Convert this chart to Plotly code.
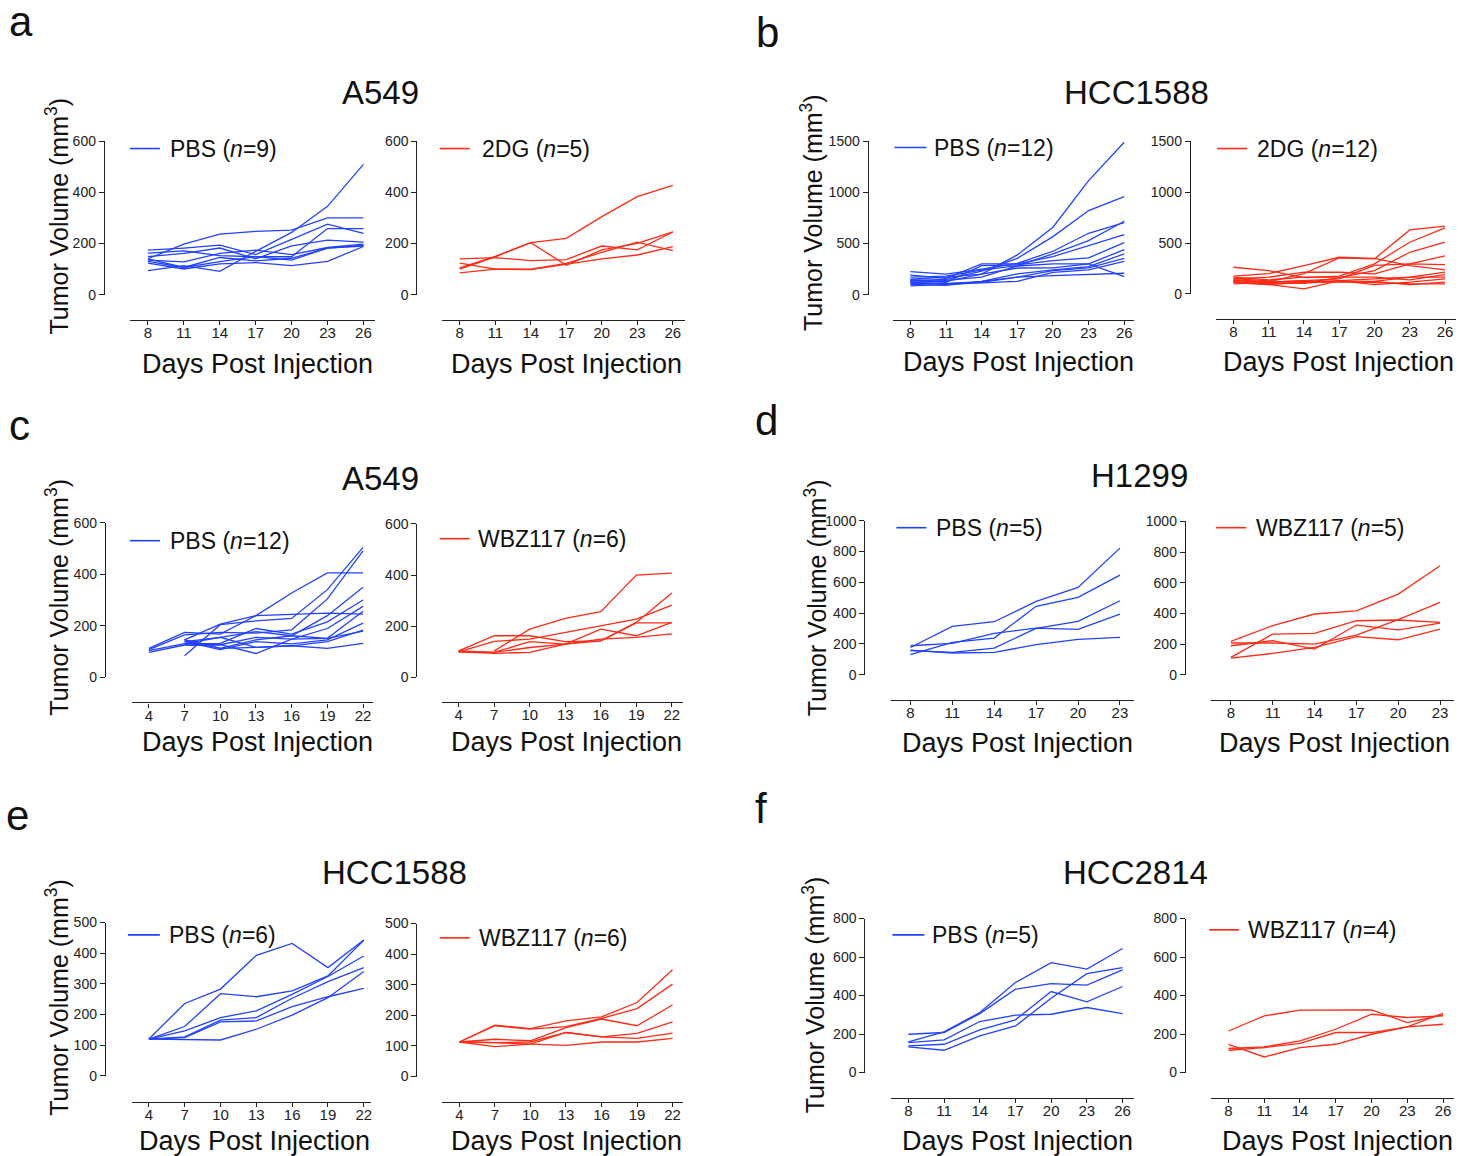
import plotly.graph_objects as go

FONT = "Liberation Sans, Arial, Helvetica, sans-serif"
W, H = 1473, 1172
# observed vertical mapping of the capture: y_out = VA + VS * y_page
VA, VS = 7.5, 0.986
BLUE = "#2242FF"
RED = "#FF2B16"
AXC = "#222222"

# ---------------- data ----------------
days_8_26 = [8, 11, 14, 17, 20, 23, 26]
days_4_22 = [4, 7, 10, 13, 16, 19, 22]
days_8_23 = [8, 11, 14, 17, 20, 23]

# a: A549, PBS (n=9) / 2DG (n=5)
a_pbs = [
    [94, 113, 91, 169, 243, 345, 509],
    [140, 197, 236, 247, 252, 300, 300],
    [174, 182, 193, 156, 216, 275, 239],
    [162, 171, 152, 148, 148, 258, 258],
    [148, 161, 182, 140, 190, 213, 205],
    [135, 128, 161, 174, 156, 184, 197],
    [130, 106, 145, 132, 142, 182, 192],
    [123, 100, 120, 125, 113, 130, 188],
    [140, 106, 129, 148, 135, 182, 190],
]
a_2dg = [
    [105, 150, 203, 220, 305, 383, 427],
    [100, 148, 203, 115, 175, 200, 245],
    [140, 145, 133, 137, 190, 175, 245],
    [123, 100, 100, 122, 165, 205, 172],
    [85, 100, 98, 118, 140, 155, 188],
]

# b: HCC1588, PBS (n=12) / 2DG (n=12)
b_pbs = [
    [150, 170, 200, 388, 659, 1115, 1490],
    [130, 150, 230, 355, 567, 822, 958],
    [225, 200, 250, 306, 424, 600, 704],
    [170, 180, 240, 284, 398, 528, 717],
    [190, 160, 300, 300, 372, 479, 587],
    [140, 120, 284, 290, 333, 359, 509],
    [120, 130, 200, 260, 261, 300, 440],
    [100, 90, 130, 202, 241, 274, 398],
    [110, 110, 120, 170, 235, 261, 355],
    [85, 100, 111, 130, 218, 241, 326],
    [145, 140, 170, 280, 300, 300, 176],
    [120, 104, 130, 170, 186, 196, 209],
]
b_2dg = [
    [174, 200, 278, 360, 350, 278, 236],
    [130, 120, 200, 354, 344, 629, 665],
    [262, 229, 160, 175, 295, 508, 649],
    [150, 130, 105, 160, 229, 409, 508],
    [147, 164, 213, 213, 197, 295, 373],
    [131, 115, 131, 147, 280, 295, 288],
    [115, 92, 49, 131, 147, 164, 213],
    [164, 138, 164, 164, 164, 138, 190],
    [98, 115, 131, 115, 124, 164, 164],
    [140, 115, 120, 130, 92, 115, 147],
    [120, 100, 105, 125, 124, 92, 115],
    [110, 92, 110, 120, 110, 100, 98],
]

# c: A549, PBS (n=12) / WBZ117 (n=6)
c_pbs = [
    [None, 84, 205, 220, 229, 341, 505],
    [None, 146, 207, 240, 328, 406, 406],
    [113, 175, 168, 240, 245, 250, 246],
    [108, 165, 175, 172, 185, 305, 492],
    [None, 139, 156, 178, 162, 240, 350],
    [104, 131, 132, 190, 168, 216, 301],
    [97, 126, 127, 156, 149, 190, 276],
    [None, 146, 113, 146, 162, 152, 257],
    [None, 139, 108, 139, 130, 146, 211],
    [None, 131, 156, 117, 123, 139, 184],
    [None, 126, 127, 93, 149, 152, 180],
    [None, 146, 113, 117, 123, 113, 132],
]
c_wbz = [
    [None, 104, 189, 231, 257, 400, 408],
    [104, 163, 163, 140, 143, 213, 213],
    [100, 141, 150, 176, 202, 228, 283],
    [104, 98, 140, 130, 189, 163, 215],
    [100, 94, 98, 130, 143, 215, 330],
    [100, 98, 117, 130, 150, 157, 170],
]

# d: H1299, PBS (n=5) / WBZ117 (n=5)
d_pbs = [
    [177, 314, 344, 476, 567, 822],
    [130, 210, 238, 444, 502, 647],
    [156, 145, 173, 301, 346, 480],
    [188, 203, 268, 303, 294, 394],
    [160, 141, 145, 195, 229, 242],
]
d_wbz = [
    [217, 320, 396, 417, 526, 711],
    [113, 265, 270, 352, 357, 341],
    [189, 222, 167, 324, 293, 337],
    [207, 207, 200, 259, 359, 472],
    [109, 139, 178, 248, 228, 298],
]

# e: HCC1588, PBS (n=6) / WBZ117 (n=6)
e_pbs = [
    [120, 236, 283, 393, 432, 353, 443],
    [120, 161, 268, 258, 277, 326, 442],
    [120, 147, 190, 212, 266, 324, 391],
    [120, 127, 182, 190, 253, 307, 353],
    [120, 125, 176, 179, 226, 258, 285],
    [120, 118, 117, 152, 198, 255, 340],
]
e_wbz = [
    [113, 168, 157, 182, 195, 242, 349],
    [113, 166, 155, 163, 190, 222, 302],
    [113, 122, 117, 160, 188, 166, 234],
    [113, 111, 113, 144, 130, 141, 179],
    [113, 98, 106, 144, 130, 125, 142],
    [113, 111, 106, 102, 113, 113, 125],
]

# f: HCC2814, PBS (n=5) / WBZ117 (n=4)
f_pbs = [
    [159, 211, 312, 468, 571, 537, 644],
    [199, 208, 306, 433, 462, 454, 533],
    [156, 170, 265, 298, 303, 338, 306],
    [139, 147, 222, 274, 421, 367, 447],
    [133, 116, 190, 242, 386, 514, 545],
]
f_wbz = [
    [216, 294, 324, 324, 326, 260, 300],
    [125, 133, 165, 225, 303, 286, 294],
    [116, 130, 152, 208, 208, 237, 308],
    [147, 81, 130, 147, 199, 237, 251],
]

legend_labels = [
    "PBS (<i>n</i>=9)", "2DG (<i>n</i>=5)",
    "PBS (<i>n</i>=12)", "2DG (<i>n</i>=12)",
    "PBS (<i>n</i>=12)", "WBZ117 (<i>n</i>=6)",
    "PBS (<i>n</i>=5)", "WBZ117 (<i>n</i>=5)",
    "PBS (<i>n</i>=6)", "WBZ117 (<i>n</i>=6)",
    "PBS (<i>n</i>=5)", "WBZ117 (<i>n</i>=4)",
]
panel_titles = ["A549", "HCC1588", "A549", "H1299", "HCC1588", "HCC2814"]
panel_letters = ["a", "b", "c", "d", "e", "f"]

# ---------------- layout spec (target picture pixels) ----------------
# geo: (yaxis_x, ytop_px, y0_px, xaxis_y_px, xline_left, xline_right, first_tick_px, last_tick_px)
panels = [
    dict(days=days_8_26, series=a_pbs, color=BLUE, ymax=600, dtick=200,
         geo=(104, 140.5, 294, 319.3, 130, 375, 148, 363.7), leg=(130, 160, 148, 168), xlab=(258, 363)),
    dict(days=days_8_26, series=a_2dg, color=RED, ymax=600, dtick=200,
         geo=(416.7, 140.7, 294, 319, 442.7, 685, 460, 673.3), leg=(440, 470, 148, 480), xlab=(567, 363)),
    dict(days=days_8_26, series=b_pbs, color=BLUE, ymax=1500, dtick=500,
         geo=(868.3, 140.7, 294, 319.3, 893.3, 1135, 911, 1125), leg=(895, 927, 147, 933), xlab=(1019, 361)),
    dict(days=days_8_26, series=b_2dg, color=RED, ymax=1500, dtick=500,
         geo=(1190.7, 140.7, 293.3, 318.3, 1216.7, 1456.7, 1234.3, 1446), leg=(1218, 1248, 148, 1256), xlab=(1339, 361)),
    dict(days=days_4_22, series=c_pbs, color=BLUE, ymax=600, dtick=200,
         geo=(105, 522.3, 676.7, 701.7, 131.7, 373, 149, 363.3), leg=(130, 160, 540, 168), xlab=(258, 741)),
    dict(days=days_4_22, series=c_wbz, color=RED, ymax=600, dtick=200,
         geo=(416.7, 523.3, 676.7, 701, 442.3, 683.3, 459, 672.3), leg=(440, 470, 538, 476), xlab=(567, 741)),
    dict(days=days_8_23, series=d_pbs, color=BLUE, ymax=1000, dtick=200,
         geo=(865, 520, 674, 699.3, 891.7, 1135, 911, 1120.7), leg=(897, 927, 527, 935), xlab=(1018, 742)),
    dict(days=days_8_23, series=d_wbz, color=RED, ymax=1000, dtick=200,
         geo=(1185.7, 520.7, 674, 699.3, 1212.3, 1455, 1231.7, 1441), leg=(1217, 1247, 527, 1255), xlab=(1335, 742)),
    dict(days=days_4_22, series=e_pbs, color=BLUE, ymax=500, dtick=100,
         geo=(105, 921.7, 1075, 1100.7, 131.7, 371.7, 149, 364), leg=(128, 160, 934, 167), xlab=(255, 1140)),
    dict(days=days_4_22, series=e_wbz, color=RED, ymax=500, dtick=100,
         geo=(416.7, 922.7, 1075.7, 1100.7, 442.3, 683.3, 459.7, 673), leg=(440, 470, 937, 477), xlab=(567, 1140)),
    dict(days=days_8_26, series=f_pbs, color=BLUE, ymax=800, dtick=200,
         geo=(865, 917.7, 1071.7, 1096.7, 891.7, 1135, 909, 1123.3), leg=(893, 925, 934, 931), xlab=(1018, 1140)),
    dict(days=days_8_26, series=f_wbz, color=RED, ymax=800, dtick=200,
         geo=(1185.7, 917.7, 1071.7, 1096.7, 1212.3, 1455, 1229.3, 1444), leg=(1210, 1240, 929, 1247), xlab=(1338, 1140)),
]
title_pos = [(381, 92), (1137, 92), (381, 478), (1140, 475), (395, 872), (1136, 872)]
letter_pos = [(21, 21), (768, 32), (20, 425), (767, 420), (18, 815), (762, 808)]
ytitle_pos = [(57, 215), (812, 212), (57, 596), (816, 597), (57, 996), (814, 994)]


def px(x):
    return x / W


def py(y):
    yp = (y - VA) / VS
    return 1 - yp / H


fig = go.Figure()
layout = dict(
    width=W, height=H, margin=dict(l=0, r=0, t=0, b=0),
    paper_bgcolor="white", plot_bgcolor="rgba(0,0,0,0)",
    font=dict(family=FONT, color="#111111"),
    showlegend=False,
)
annotations = []
shapes = []

for i, p in enumerate(panels):
    k = "" if i == 0 else str(i + 1)
    yx, ytop, y0, xay, xl, xr, t0, t1 = p["geo"]
    first, last = p["days"][0], p["days"][-1]
    u = (last - first) / (t1 - t0)
    layout["xaxis" + k] = dict(
        domain=[px(xl), px(xr)],
        range=[first - (t0 - xl) * u, last + (xr - t1) * u],
        anchor="free", position=py(xay),
        tickmode="array", tickvals=p["days"],
        showline=True, linecolor=AXC, linewidth=1.3,
        ticks="outside", ticklen=4, tickwidth=1.3, tickcolor=AXC,
        ticklabelstandoff=-5,
        tickfont=dict(size=15, color=AXC, family=FONT),
        showgrid=False, zeroline=False, fixedrange=True,
    )
    layout["yaxis" + k] = dict(
        domain=[py(y0), py(ytop)],
        range=[0, p["ymax"]],
        anchor="free", position=px(yx),
        tickmode="linear", tick0=0, dtick=p["dtick"],
        showline=True, linecolor=AXC, linewidth=1.3,
        ticks="outside", ticklen=5, tickwidth=1.3, tickcolor=AXC,
        tickfont=dict(size=14, color=AXC, family=FONT),
        showgrid=False, zeroline=False, fixedrange=True,
    )
    for ys in p["series"]:
        fig.add_trace(go.Scatter(
            x=p["days"], y=ys, mode="lines",
            line=dict(color=p["color"], width=1.3),
            xaxis="x" + k, yaxis="y" + k,
            hoverinfo="skip", showlegend=False, cliponaxis=False,
        ))
    # legend sample + text
    lx0, lx1, ly, tx = p["leg"]
    shapes.append(dict(type="line", xref="paper", yref="paper",
                       x0=px(lx0), x1=px(lx1), y0=py(ly), y1=py(ly),
                       line=dict(color=p["color"], width=1.6)))
    annotations.append(dict(text=legend_labels[i], xref="paper", yref="paper",
                            x=px(tx), y=py(ly), xanchor="left", yanchor="middle",
                            showarrow=False, font=dict(size=23, color="#111111", family=FONT)))
    # x axis title
    xlx, xly = p["xlab"]
    annotations.append(dict(text="Days Post Injection", xref="paper", yref="paper",
                            x=px(xlx), y=py(xly), xanchor="center", yanchor="middle",
                            showarrow=False, font=dict(size=27, color="#111111", family=FONT)))

for j in range(6):
    tx, ty = title_pos[j]
    annotations.append(dict(text=panel_titles[j], xref="paper", yref="paper",
                            x=px(tx), y=py(ty), xanchor="center", yanchor="middle",
                            showarrow=False, font=dict(size=33, color="#111111", family=FONT)))
    lx, ly = letter_pos[j]
    annotations.append(dict(text=panel_letters[j], xref="paper", yref="paper",
                            x=px(lx), y=py(ly), xanchor="center", yanchor="middle",
                            showarrow=False, font=dict(size=42, color="#111111", family=FONT)))
    vx, vy = ytitle_pos[j]
    annotations.append(dict(text="Tumor Volume (mm<sup>3</sup>)", xref="paper", yref="paper",
                            x=px(vx), y=py(vy), xanchor="center", yanchor="middle", textangle=-90,
                            showarrow=False, font=dict(size=25, color="#111111", family=FONT)))

layout["annotations"] = annotations
layout["shapes"] = shapes
fig.update_layout(**layout)

pin_script = (
    "var d=document.getElementById('{plot_id}');"
    "d.style.position='absolute';d.style.left='0px';d.style.top='0px';"
    "document.body.style.margin='0px';"
)
fig.write_html("out.html", config={"displayModeBar": False}, post_script=pin_script)
